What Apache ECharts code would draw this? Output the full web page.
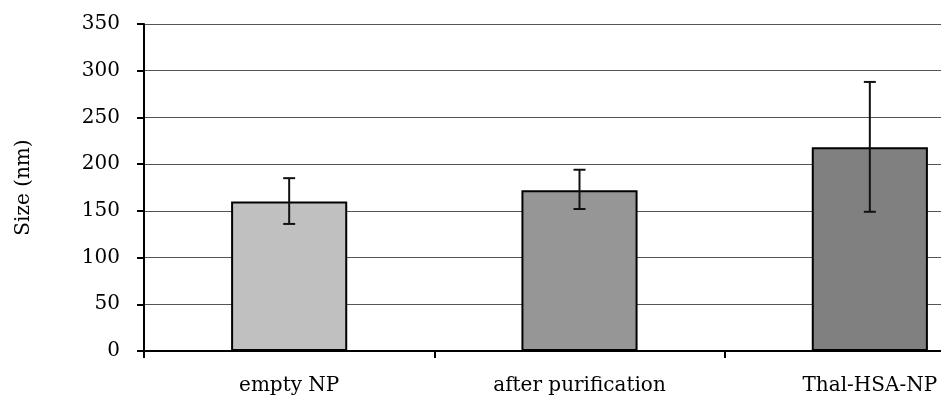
<!DOCTYPE html>
<html>
<head>
<meta charset="utf-8">
<script src="https://cdn.jsdelivr.net/npm/echarts@6/dist/echarts.min.js"></script>
<style>html,body{margin:0;padding:0;background:#fff;}#c{width:941px;height:398px;}</style>
</head>
<body>
<div id="c"></div>
<script>
const categories = ['empty NP', 'after purification', 'Thal-HSA-NP'];
const sizes = [160, 172, 218];
const errLow = [136, 152, 149];
const errHigh = [185, 194, 288];
const barColors = ['#C0C0C0', '#969696', '#808080'];
const yTicks = [0, 50, 100, 150, 200, 250, 300, 350];

const chart = echarts.init(document.getElementById('c'), null, {renderer: 'canvas'});
const font = '"DejaVu Serif", "Liberation Serif", serif';
chart.setOption({
  animation: false,
  backgroundColor: '#fff',
  grid: {left: 144, top: 24, right: -74, bottom: 47, containLabel: false, outerBoundsMode: 'none'},
  xAxis: {
    type: 'category',
    data: categories,
    axisLine: {lineStyle: {color: '#000', width: 2}},
    axisTick: {show: true, inside: false, length: 7, interval: 0, alignWithLabel: false, lineStyle: {color: '#000', width: 2}},
    axisLabel: {color: '#000', fontFamily: font, fontSize: 20, margin: 25, interval: 0},
    splitLine: {show: false}
  },
  yAxis: {
    type: 'value',
    min: yTicks[0], max: yTicks[yTicks.length - 1], interval: 50,
    name: 'Size (nm)',
    nameLocation: 'middle',
    nameRotate: 90,
    nameGap: 110,
    nameTextStyle: {color: '#000', fontFamily: font, fontSize: 20},
    axisLine: {show: true, lineStyle: {color: '#000', width: 2}},
    axisTick: {show: true, inside: false, length: 7, lineStyle: {color: '#000', width: 2}},
    axisLabel: {color: '#000', fontFamily: font, fontSize: 20, margin: 24},
    splitLine: {show: true, lineStyle: {color: '#555', width: 1}}
  },
  series: [
    {
      type: 'bar',
      data: sizes.map((v, i) => ({value: v, itemStyle: {color: barColors[i]}})),
      barCategoryGap: '60%',
      itemStyle: {borderColor: '#000', borderWidth: 2},
      z: 2
    },
    {
      type: 'custom',
      data: categories.map((c, i) => [i, errLow[i], errHigh[i]]),
      z: 5,
      renderItem: function (params, api) {
        const x = api.value(0);
        const lo = api.coord([x, api.value(1)]);
        const hi = api.coord([x, api.value(2)]);
        const hw = 6;
        const style = {stroke: '#111', lineWidth: 2};
        return {
          type: 'group',
          children: [
            {type: 'line', shape: {x1: lo[0], y1: lo[1], x2: hi[0], y2: hi[1]}, style: style},
            {type: 'line', shape: {x1: lo[0] - hw, y1: lo[1], x2: lo[0] + hw, y2: lo[1]}, style: style},
            {type: 'line', shape: {x1: hi[0] - hw, y1: hi[1], x2: hi[0] + hw, y2: hi[1]}, style: style}
          ]
        };
      }
    }
  ]
});
</script>
</body>
</html>
